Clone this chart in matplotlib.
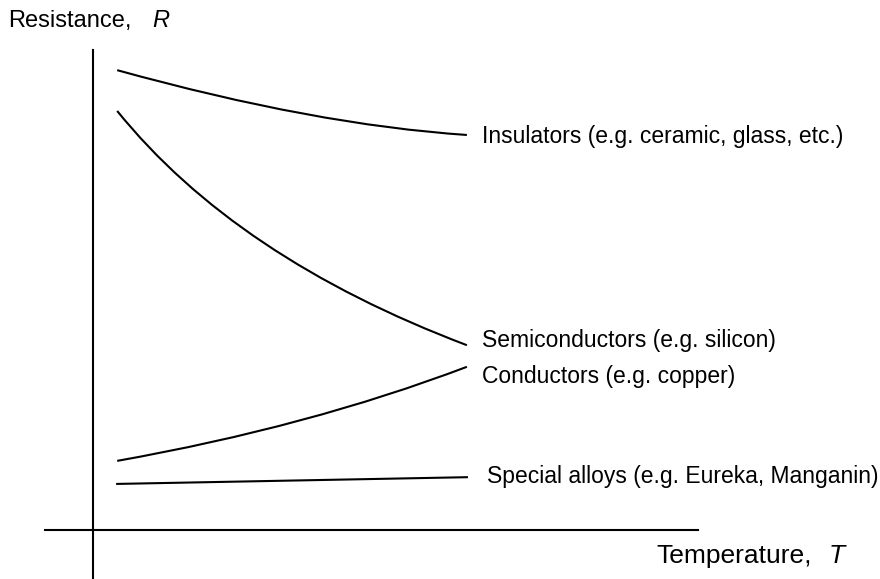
import matplotlib
matplotlib.use("Agg")
import matplotlib.pyplot as plt
from matplotlib.path import Path
from matplotlib.patches import PathPatch

plt.rcParams["font.family"] = ["Liberation Sans", "DejaVu Sans"]

# Resistance against temperature, arbitrary units (axes run 0..100).
# Each curve: start, bend (control) and end point of a quadratic curve.
ins_T = [4.0, 36.7, 61.8]
ins_R = [95.8, 84.4, 82.3]

semi_T = [4.0, 23.6, 61.8]
semi_R = [87.3, 56.7, 38.5]

cond_T = [4.0, 35.7, 61.8]
cond_R = [14.4, 21.5, 34.0]

alloy_T = [4.0, 61.8]
alloy_R = [9.6, 11.0]

labels = [
    "Insulators (e.g. ceramic, glass, etc.)",
    "Semiconductors (e.g. silicon)",
    "Conductors (e.g. copper)",
    "Special alloys (e.g. Eureka, Manganin)",
]

fig = plt.figure(figsize=(8.8, 5.79), dpi=100)
ax = fig.add_axes([0, 0, 1, 1])
ax.set_xlim(-15.37, 130.08)
ax.set_ylim(-10.21, 110.42)
ax.axis("off")

lw = 1.5
# axes drawn as plain lines crossing at the origin
ax.plot([0, 0], [-10, 100], color="black", lw=lw)
ax.plot([-7.9, 100], [0, 0], color="black", lw=lw)

for T, R in [(ins_T, ins_R), (semi_T, semi_R), (cond_T, cond_R)]:
    path = Path(list(zip(T, R)), [Path.MOVETO, Path.CURVE3, Path.CURVE3])
    ax.add_patch(PathPatch(path, facecolor="none", edgecolor="black", lw=lw))

ax.plot(alloy_T, alloy_R, color="black", lw=lw)


def put(px, py, s, size=16.5, style="normal"):
    ax.text(px / 880, 1 - py / 579, s, transform=ax.transAxes,
            fontsize=size, style=style, ha="left", va="baseline")


put(8, 27, "Resistance,", size=17)
put(152, 27, "R", size=17, style="italic")
put(482, 143, labels[0])
put(482, 347, labels[1])
put(482, 383, labels[2])
put(487, 483, labels[3])
put(656, 563, "Temperature,", size=19)
put(829, 563, "T", size=19, style="italic")

fig.savefig("out.png", dpi=100)
